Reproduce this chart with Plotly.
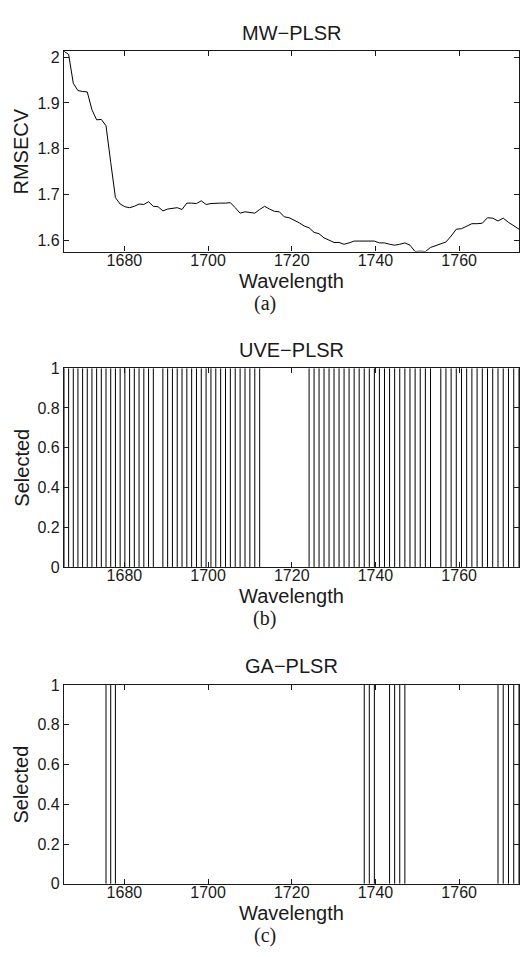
import plotly.graph_objects as go

# ---------------- data ----------------
wavelength = [
    1665.56, 1666.67, 1667.78, 1668.89, 1670.01, 1671.12, 1672.24, 1673.36, 1674.48, 1675.60,
    1676.73, 1677.85, 1678.98, 1680.11, 1681.24, 1682.37, 1683.50, 1684.64, 1685.77, 1686.91,
    1688.05, 1689.19, 1690.33, 1691.47, 1692.62, 1693.77, 1694.92, 1696.07, 1697.22, 1698.37,
    1699.52, 1700.68, 1701.84, 1703.00, 1704.16, 1705.32, 1706.48, 1707.65, 1708.82, 1709.99,
    1711.16, 1712.33, 1713.50, 1714.68, 1715.86, 1717.03, 1718.21, 1719.39, 1720.58, 1721.76,
    1722.95, 1724.14, 1725.33, 1726.52, 1727.71, 1728.91, 1730.10, 1731.30, 1732.50, 1733.70,
    1734.91, 1736.11, 1737.32, 1738.53, 1739.74, 1740.95, 1742.16, 1743.38, 1744.59, 1745.81,
    1747.03, 1748.25, 1749.48, 1750.70, 1751.93, 1753.16, 1754.39, 1755.62, 1756.85, 1758.09,
    1759.32, 1760.56, 1761.80, 1763.05, 1764.29, 1765.54, 1766.78, 1768.03, 1769.29, 1770.54,
    1771.79, 1773.05, 1774.31,
]

rmsecv = [
    2.013, 2.006, 1.943, 1.927, 1.925, 1.924, 1.885, 1.863, 1.864, 1.850,
    1.770, 1.693, 1.679, 1.673, 1.671, 1.674, 1.679, 1.678, 1.684, 1.674,
    1.673, 1.664, 1.668, 1.669, 1.671, 1.667, 1.681, 1.681, 1.680, 1.686,
    1.678, 1.680, 1.681, 1.681, 1.681, 1.682, 1.671, 1.659, 1.662, 1.661,
    1.659, 1.667, 1.674, 1.668, 1.663, 1.662, 1.651, 1.649, 1.644, 1.638,
    1.631, 1.627, 1.617, 1.614, 1.605, 1.600, 1.595, 1.595, 1.591, 1.594,
    1.598, 1.598, 1.598, 1.597, 1.598, 1.594, 1.594, 1.591, 1.589, 1.591,
    1.594, 1.589, 1.575, 1.576, 1.575, 1.584, 1.588, 1.591, 1.596, 1.609,
    1.624, 1.625, 1.631, 1.636, 1.636, 1.637, 1.649, 1.648, 1.642, 1.648,
    1.639, 1.631, 1.624,
]

uve_selected = [
    1, 1, 1, 1, 1, 1, 1, 1, 1, 1,
    1, 1, 1, 1, 1, 1, 1, 1, 1, 1,
    0, 1, 1, 1, 1, 1, 1, 1, 1, 1,
    1, 1, 1, 1, 1, 1, 1, 1, 1, 1,
    1, 1, 0, 0, 0, 0, 0, 0, 0, 0,
    0, 1, 1, 1, 1, 1, 1, 1, 1, 1,
    1, 1, 1, 1, 1, 1, 1, 1, 1, 1,
    1, 1, 1, 1, 1, 1, 0, 1, 1, 1,
    1, 1, 1, 1, 1, 1, 1, 1, 1, 1,
    1, 1, 1,
]

ga_selected = [
    0, 0, 0, 0, 0, 0, 0, 0, 0, 1,
    1, 1, 0, 0, 0, 0, 0, 0, 0, 0,
    0, 0, 0, 0, 0, 0, 0, 0, 0, 0,
    0, 0, 0, 0, 0, 0, 0, 0, 0, 0,
    0, 0, 0, 0, 0, 0, 0, 0, 0, 0,
    0, 0, 0, 0, 0, 0, 0, 0, 0, 0,
    0, 0, 1, 1, 1, 0, 0, 1, 1, 1,
    1, 0, 0, 0, 0, 0, 0, 0, 0, 0,
    0, 0, 0, 0, 0, 0, 0, 0, 1, 1,
    1, 1, 1,
]

x_ticks = [1680, 1700, 1720, 1740, 1760]
rmse_ticks = [1.6, 1.7, 1.8, 1.9, 2.0]
rmse_ticktext = ["1.6", "1.7", "1.8", "1.9", "2"]
sel_ticks = [0, 0.2, 0.4, 0.6, 0.8, 1]
sel_ticktext = ["0", "0.2", "0.4", "0.6", "0.8", "1"]

titles = ["MW\u2212PLSR", "UVE\u2212PLSR", "GA\u2212PLSR"]
panel_labels = ["(a)", "(b)", "(c)"]

# ---------------- layout helpers ----------------
W, H = 520, 957
ML = 64
FONT = "Liberation Sans, Arial, Helvetica, sans-serif"
SERIF = "Liberation Serif, Times New Roman, serif"
INK = "#1a1a1a"


def py(p):
    return 1 - p / H


def px(p):
    return (p - ML) / (W - ML)


def stems(flags):
    xs, ys = [], []
    for w, f in zip(wavelength, flags):
        if f:
            xs += [w, w, None]
            ys += [0, f, None]
    return xs, ys


fig = go.Figure()
fig.add_trace(go.Scatter(x=wavelength, y=rmsecv, mode="lines",
                         line=dict(color="black", width=1),
                         xaxis="x", yaxis="y", hoverinfo="skip"))
xs, ys = stems(uve_selected)
fig.add_trace(go.Scatter(x=xs, y=ys, mode="lines", line=dict(color="black", width=1),
                         xaxis="x2", yaxis="y2", hoverinfo="skip"))
xs, ys = stems(ga_selected)
fig.add_trace(go.Scatter(x=xs, y=ys, mode="lines", line=dict(color="black", width=1),
                         xaxis="x3", yaxis="y3", hoverinfo="skip"))

common = dict(showline=True, linecolor=INK, linewidth=1.3, mirror="ticks",
              ticks="inside", ticklen=5, tickcolor=INK, tickwidth=1,
              showgrid=False, zeroline=False,
              tickfont=dict(family=FONT, size=16, color=INK))

xrange_ = [wavelength[0], wavelength[-1]]
panels = [(44, 248), (366.7, 569), (689.3, 891.7)]

layout = dict(width=W, height=H, margin=dict(l=ML, r=0, t=0, b=0),
              plot_bgcolor="white", paper_bgcolor="white", showlegend=False)

for i, (top, bot) in enumerate(panels):
    sfx = "" if i == 0 else str(i + 1)
    layout["xaxis" + sfx] = dict(common, domain=[0, 1], range=xrange_,
                                 tickvals=x_ticks, anchor="y" + sfx,
                                 ticklabelstandoff=-6)
    if i == 0:
        yr = [min(rmsecv), max(rmsecv)]
        tv, tt = rmse_ticks, rmse_ticktext
    else:
        yr = [0, 1]
        tv, tt = sel_ticks, sel_ticktext
    layout["yaxis" + sfx] = dict(common, domain=[py(bot), py(top)], range=yr,
                                 tickvals=tv, ticktext=tt, anchor="x" + sfx,
                                 ticklabelstandoff=0)

fig.update_layout(**layout)

ylabels = ["RMSECV", "Selected", "Selected"]
for i, (top, bot) in enumerate(panels):
    fig.add_annotation(text=titles[i], xref="paper", yref="paper", x=0.5,
                       y=py(top - 19), showarrow=False, xanchor="center", yanchor="middle",
                       font=dict(family=FONT, size=20, color=INK))
    fig.add_annotation(text="Wavelength", xref="paper", yref="paper", x=0.5,
                       y=py(bot + 30), showarrow=False, xanchor="center", yanchor="middle",
                       font=dict(family=FONT, size=20, color=INK))
    fig.add_annotation(text=panel_labels[i], xref="paper", yref="paper", x=px(265),
                       y=py(bot + 53), showarrow=False, xanchor="center", yanchor="middle",
                       font=dict(family=SERIF, size=20, color=INK))
    fig.add_annotation(text=ylabels[i], xref="paper", yref="paper", x=px(21),
                       y=py((top + bot) / 2), showarrow=False, textangle=-90,
                       xanchor="center", yanchor="middle",
                       font=dict(family=FONT, size=20, color=INK))

fig.write_html("out.html")
